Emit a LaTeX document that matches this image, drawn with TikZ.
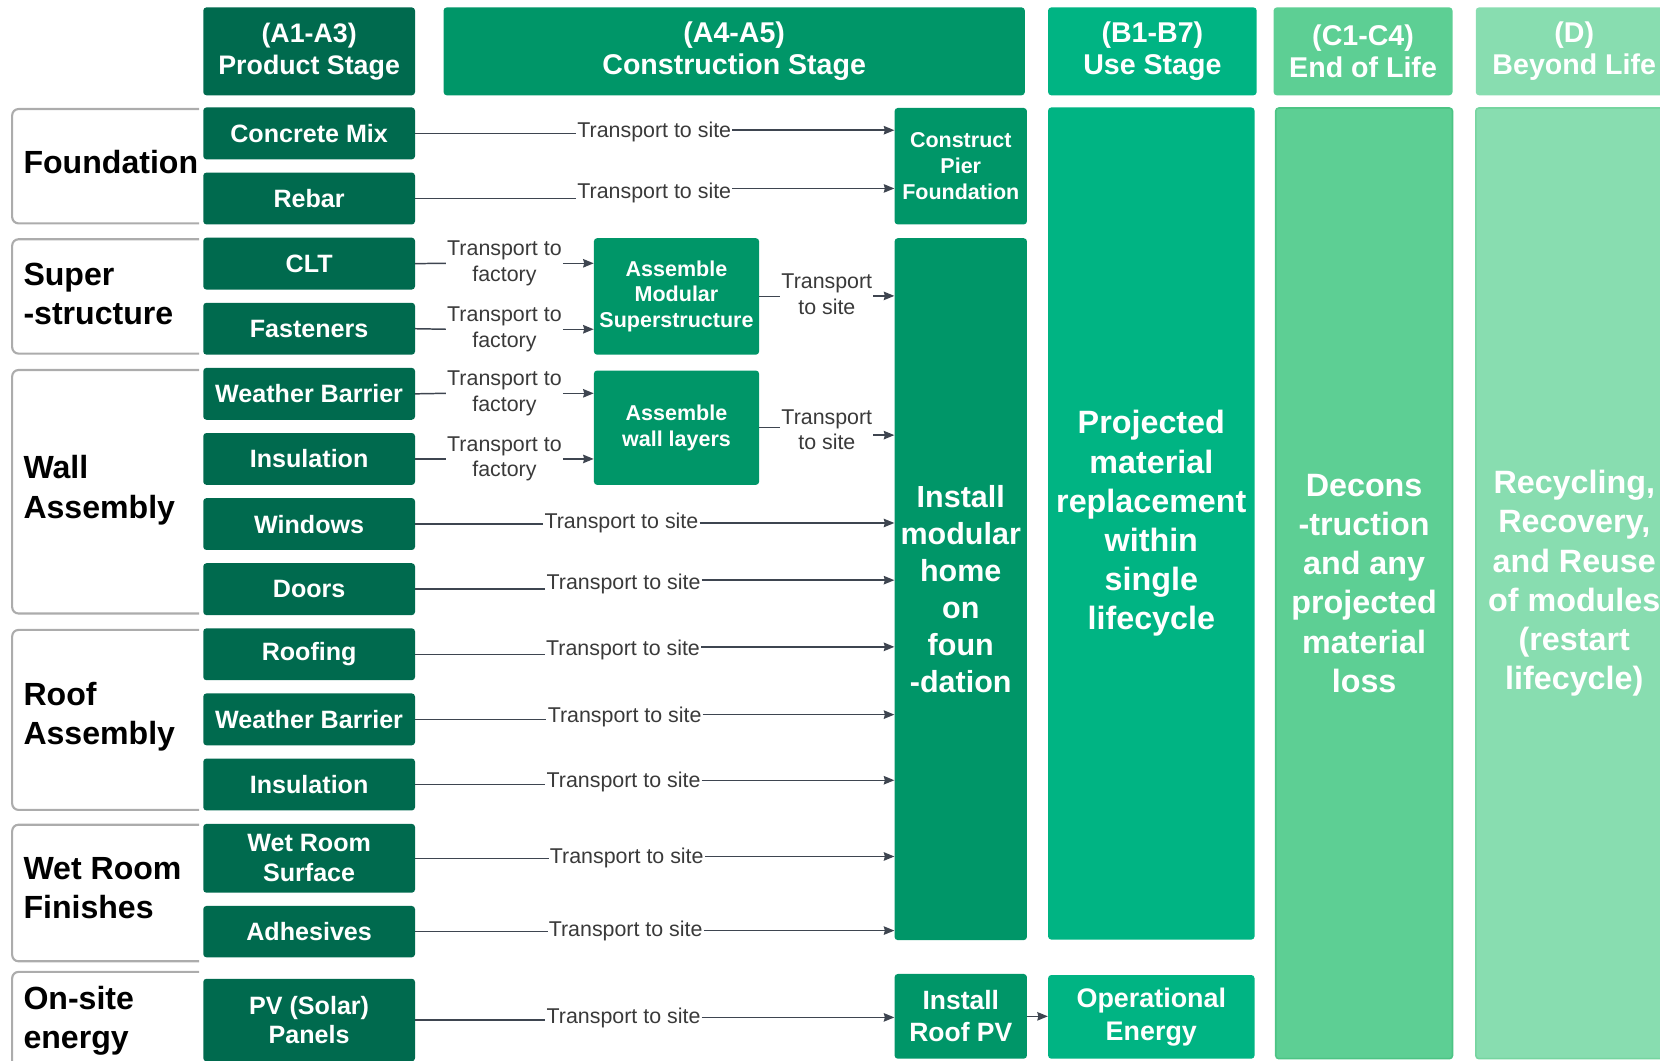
\documentclass[tikz,border=0pt]{standalone}
\usepackage{fontspec}
\setmainfont{Liberation Sans}
\usetikzlibrary{arrows.meta}

\definecolor{prodgreen}{RGB}{0,106,78}
\definecolor{constgreen}{RGB}{0,150,104}
\definecolor{usegreen}{RGB}{0,180,131}
\definecolor{eolgreen}{RGB}{93,207,148}
\definecolor{eolline}{RGB}{76,196,132}
\definecolor{beyondgreen}{RGB}{136,221,176}
\definecolor{beyondline}{RGB}{118,213,160}
\definecolor{bracketgray}{RGB}{172,172,172}
\definecolor{linkgray}{RGB}{62,69,80}
\definecolor{labelgray}{RGB}{58,58,58}

\tikzstyle{header}=[rectangle,rounded corners=3pt,text=white,align=center,inner sep=0pt,minimum height=83pt]
\tikzstyle{material}=[rectangle,rounded corners=3pt,fill=prodgreen,text=white,align=center,inner sep=0pt,minimum width=200pt,font=\bfseries\fontsize{23.7}{28}\selectfont]
\tikzstyle{task}=[rectangle,rounded corners=3pt,fill=constgreen,text=white,align=center,inner sep=0pt,font=\bfseries\fontsize{20.3}{24.5}\selectfont]
\tikzstyle{phase}=[rectangle,rounded corners=3pt,text=white,align=center,inner sep=0pt,font=\bfseries\fontsize{30.5}{37}\selectfont]
\tikzstyle{group}=[anchor=west,align=left,inner sep=0pt,font=\bfseries\fontsize{30.3}{37}\selectfont]
\tikzstyle{bracket}=[draw=bracketgray,line width=2pt,rounded corners=6pt]
\tikzstyle{link}=[draw=linkgray,line width=1.4pt]
\tikzstyle{arrow}=[link,-{Stealth[length=10pt,width=8pt,inset=1pt]}]
\tikzstyle{transport}=[fill=white,inner sep=1pt,text=labelgray,align=center,font=\fontsize{20.2}{24}\selectfont]

\begin{document}
\begin{tikzpicture}[x=1pt,y=-1pt]
\useasboundingbox (0,0) rectangle (1568,1002);

\foreach \x/\w/\col/\fs/\name/\txt in {292/200/prodgreen/25.3/hprod/{(A1-A3)\\Product Stage}, 693.5/549/constgreen/27/hcons/{(A4-A5)\\Construction Stage}, 1088.5/197/usegreen/27/huse/{(B1-B7)\\Use Stage}, 1287.5/169/eolgreen/27/heol/{(C1-C4)\\End of Life}, 1487/186/beyondgreen/27/hbey/{(D)\\Beyond Life}}
\node[header,fill=\col,minimum width=\w pt,font=\bfseries\fontsize{\fs}{30}\selectfont] (\name) at (\x,48.5) {\txt};

\foreach \top/\bot in {103/211, 226/334, 349.5/579.5, 595/765, 779/908, 918/1040}
\draw[bracket] (188,\top) -- (11.5,\top) -- (11.5,\bot) -- (188,\bot);

\foreach \y/\name/\txt in {153/gfound/Foundation, 278/gsuper/{Super\\-structure}, 463/gwall/{Wall\\Assembly}, 677/groof/{Roof\\Assembly}, 839/gwet/{Wet Room\\Finishes}, 964/genergy/{On-site\\energy}}
\node[group] (\name) at (22,\y) {\txt};

\foreach \i/\name/\txt in {0/conc/Concrete Mix, 1/rebar/Rebar, 2/clt/CLT, 3/fast/Fasteners, 4/wbw/Weather Barrier, 5/insw/Insulation, 6/wind/Windows, 7/door/Doors, 8/roof/Roofing, 9/wbr/Weather Barrier, 10/insr/Insulation}
\node[material,minimum height=49pt] (\name) at (292,{126+61.5*\i}) {\txt};
\node[material,minimum height=65pt] (wet) at (292,810.7) {Wet Room\\Surface};
\node[material,minimum height=48.5pt] (adh) at (292,880) {Adhesives};
\node[material,minimum height=78pt] (pv) at (292,963.5) {PV (Solar)\\Panels};

\node[task,minimum width=125pt,minimum height=110pt] (pier) at (907.5,157) {Construct\\Pier\\Foundation};
\node[task,minimum width=156pt,minimum height=110pt] (asmsuper) at (639,280) {Assemble\\Modular\\Superstructure};
\node[task,minimum width=156pt,minimum height=108pt] (asmwall) at (639,404) {Assemble\\wall layers};
\node[phase,fill=constgreen,minimum width=125pt,minimum height=663pt,font=\bfseries\fontsize{28.8}{35}\selectfont] (install) at (907.5,556.5) {Install\\modular\\home\\on\\foun\\-dation};
\node[task,minimum width=125pt,minimum height=80pt,font=\bfseries\fontsize{25}{30}\selectfont] (instpv) at (907.5,960) {Install\\Roof PV};

\node[phase,fill=usegreen,minimum width=195pt,minimum height=786pt] (replace) at (1087.5,494.5) {Projected\\material\\replacement\\within\\single\\lifecycle};
\node[task,fill=usegreen,minimum width=195pt,minimum height=79pt,font=\bfseries\fontsize{25.4}{31}\selectfont] (oper) at (1087.5,960.5) {Operational\\Energy};
\node[phase,fill=eolgreen,draw=eolline,line width=1.5pt,minimum width=167pt,minimum height=898pt] (decon) at (1288.5,551) {Decons\\-truction\\and any\\projected\\material\\loss};
\node[phase,fill=beyondgreen,draw=beyondline,line width=1.5pt,minimum width=186pt,minimum height=898pt] (reuse) at (1487,551) {Recycling,\\Recovery,\\and Reuse\\of modules\\(restart\\lifecycle)};

\foreach \src/\dest/\ly [count=\k] in {clt/asmsuper/248.7, fast/asmsuper/311, wbw/asmwall/371.5, insw/asmwall/433.5}{
\node[transport] (fact\k) at (476.5,\ly) {Transport to\\factory};
\draw[link] (\src.east) -- (fact\k.west);
\draw[arrow] (fact\k.east) -- (\dest.west |- fact\k.east);
}

\node[transport] (sitesup) at (781,278) {Transport\\to site};
\node[transport] (sitewall) at (781,406) {Transport\\to site};
\draw[link] (asmsuper.east) -- (asmsuper.east -| sitesup.west);
\draw[arrow] (sitesup.east |- 0,279.5) -- (install.west |- 0,279.5);
\draw[link] (asmwall.east) -- (asmwall.east -| sitewall.west);
\draw[arrow] (sitewall.east |- 0,411) -- (install.west |- 0,411);

\foreach \src/\dest/\lx/\ly/\ay [count=\k] in {conc/pier/618/124.5/123, rebar/pier/618/182/178, wind/install/587/494/494, door/install/589/552/548, roof/install/588.5/614/611, wbr/install/590/677/675, insr/install/589/738.5/737, wet/install/592/810.5/809, adh/install/591/879/879, pv/instpv/589/962/961}{
\node[transport] (site\k) at (\lx,\ly) {Transport to site};
\draw[link] (\src.east) -- (\src.east -| site\k.west);
\draw[arrow] (site\k.east |- 0,\ay) -- (\dest.west |- 0,\ay);
}

\draw[arrow] (instpv.east) -- (oper.west |- instpv.east);
\end{tikzpicture}
\end{document}
